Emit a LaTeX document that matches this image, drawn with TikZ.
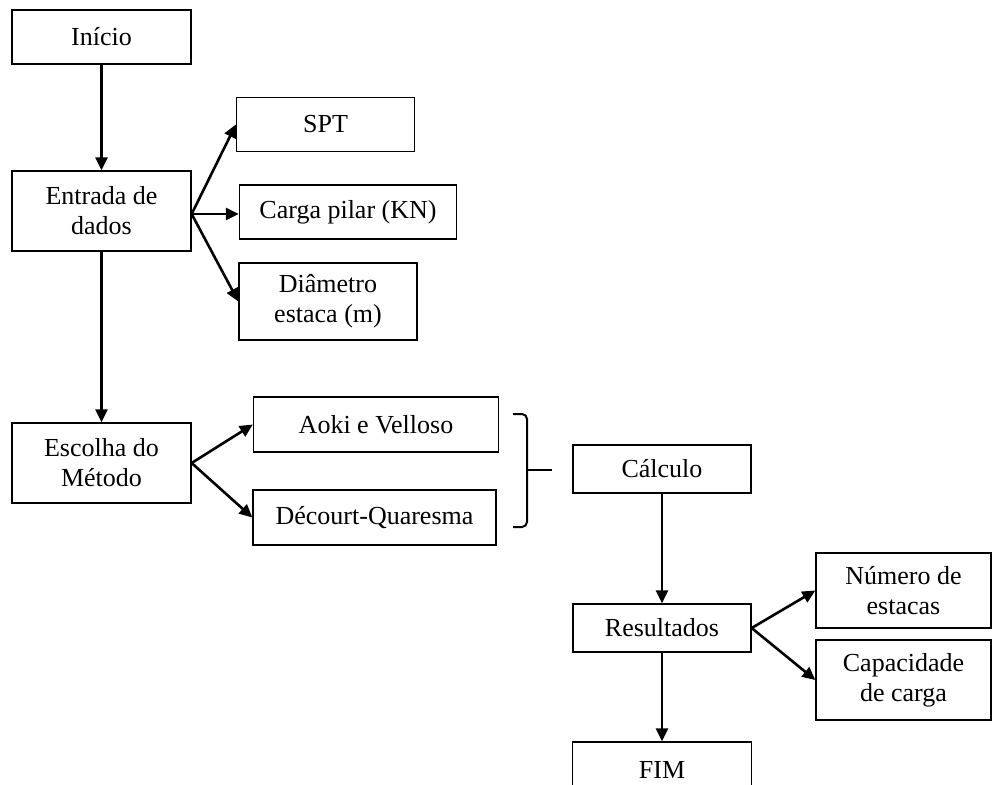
\documentclass[tikz,border=0pt]{standalone}
\usepackage{fontspec}
\setmainfont{Liberation Serif}
\usetikzlibrary{arrows.meta}

\begin{document}
\begin{tikzpicture}[x=1pt, y=-1pt,
        every node/.style={draw, line width=1.3pt, align=center, inner sep=0pt,
            font=\fontsize{26}{30}\selectfont},
        tam/.style 2 args={minimum width=#1, minimum height=#2},
        seta/.style={line width=2.6pt, -{Triangle[length=13pt,width=12pt]}},
        chave/.style={line width=2pt, rounded corners=5pt}]

    \useasboundingbox (0,0) rectangle (992,784);
    \clip (0,0) rectangle (992,784);

    % coluna da esquerda
    \node[tam={179pt}{54pt}] (inicio) at (101.5,37) {Início};
    \node[tam={179pt}{80pt}] (entrada) at (101.5,211) {Entrada de\\dados};
    \node[tam={179pt}{80pt}] (escolha) at (101.5,463) {Escolha do\\Método};

    % dados de entrada
    \node[tam={178pt}{54pt}] (spt) at (325.5,124.5) {SPT};
    \node[tam={217pt}{54pt}] (carga) at (348,212) {Carga pilar (KN)};
    \node[tam={178pt}{77pt}] (diametro) at (328,301.5) {Diâmetro\\estaca (m)};

    % metodos
    \node[tam={245pt}{55pt}] (aoki) at (376,424.5) {Aoki e Velloso};
    \node[tam={243pt}{55pt}] (decourt) at (374.5,517.5) {Décourt-Quaresma};

    \node[tam={178pt}{48pt}] (calculo) at (662,469) {Cálculo};
    \node[tam={178pt}{48pt}] (resultados) at (662,628) {Resultados};
    \node[tam={175pt}{75pt}] (numero) at (903.5,590.5) {Número de\\estacas};
    \node[tam={175pt}{80pt}] (capacidade) at (903.5,680) {Capacidade\\de carga};
    \node[tam={179pt}{56pt}] (fim) at (662,770) {FIM};

    \coordinate (entrada-o) at ([yshift=-3pt]entrada.east);
    \coordinate (chave-c) at (527,470);
    \coordinate (chave-p) at (552,470);

    \draw[seta] (inicio.south) -- (entrada.north);
    \draw[seta] (entrada.south) -- (escolha.north);
    \draw[seta] (entrada-o) -- (spt.west);
    \draw[seta] (entrada-o) -- (carga.west |- entrada-o);
    \draw[seta] (entrada-o) -- (diametro.west);
    \draw[seta] (escolha.east) -- (aoki.west);
    \draw[seta] (escolha.east) -- (decourt.west);

    % chave
    \draw[chave] (513,414) -- (527,414) -- (527,527) -- (513,527);
    \draw[chave] (chave-c) -- (chave-p);

    \draw[seta] (calculo.south) -- (resultados.north);
    \draw[seta] (resultados.east) -- (numero.west);
    \draw[seta] (resultados.east) -- (capacidade.west);
    \draw[seta] (resultados.south) -- (fim.north);
\end{tikzpicture}
\end{document}
